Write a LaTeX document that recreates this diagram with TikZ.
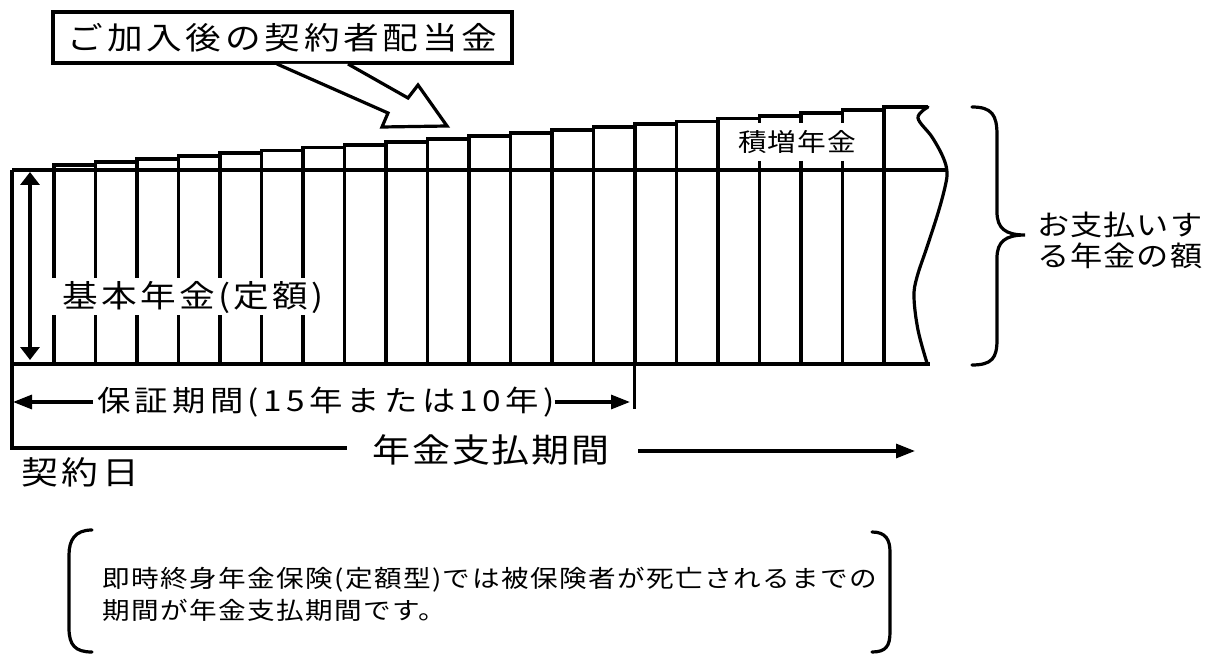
\documentclass[tikz,border=0pt]{standalone}
\usepackage{fontspec}
\newfontfamily\jp[FakeStretch=1.15]{Noto Sans CJK JP}
\usetikzlibrary{arrows.meta}
\newcommand\jpf[2]{\fontsize{#1}{#1}\jp\addfontfeature{LetterSpace=#2}}
\begin{document}
\begin{tikzpicture}[x=1pt,y=-1pt,
  barline/.style={line width=3.8pt,line join=miter},
  hline/.style={line width=3.2pt},
  thinline/.style={line width=3pt},
  curveline/.style={line width=3.2pt,line cap=round},
  txt/.style={inner sep=0pt,outer sep=0pt},
  arr/.style={line width=3.2pt,-{Triangle[length=19pt,width=14pt]}},
  darr/.style={line width=3.8pt,{Triangle[length=13pt,width=19pt]}-{Triangle[length=13pt,width=19pt]}},
  hollow/.style={line width=3.2pt,line join=miter,fill=white}]
\useasboundingbox (0,0) rectangle (1208,655);

% title box and hollow arrow
\node[txt,draw,line width=3.8pt,minimum width=459pt,minimum height=51pt,font=\jpf{31}{12}] (title) at (282.5,37.5) {ご加入後の契約者配当金};
\draw[hollow] (277,64) -- (388,113) -- (382,127) -- (447,126) -- (418,85) -- (408,98) -- (348,64);

% baseline (top of basic annuity) and left frame
\draw[hline] (12,170) -- (947,170);
\draw[barline] (12,170) -- (12,448) -- (347,448);
\draw[hline] (12,364) -- (930,364);

% staircase bars
\foreach \k in {0,...,20}{
  \pgfmathsetmacro\xa{54+41.5*\k}
  \pgfmathsetmacro\xb{(\k==20) ? 928 : 54+41.5*(\k+1)}
  \pgfmathsetmacro\yt{165-2.9*\k}
  \ifnum\k<7
    \draw[barline] (\xa,278) -- (\xa,\yt) -- (\xb,\yt);
    \draw[barline] (\xa,315) -- (\xa,364);
  \else\ifnum\k>16 \ifnum\k<20
    \draw[barline] (\xa,123) -- (\xa,\yt) -- (\xb,\yt);
    \draw[barline] (\xa,161) -- (\xa,364);
  \else
    \draw[barline] (\xa,364) -- (\xa,\yt) -- (\xb,\yt);
  \fi\else
    \draw[barline] (\xa,364) -- (\xa,\yt) -- (\xb,\yt);
  \fi\fi
}

% wavy right edge
\draw[curveline] plot[smooth,tension=0.6] coordinates {(928,107) (918,118) (932,137) (943,157) (947,172) (945,187) (938,213) (927,247) (917,277) (914,297) (918,330) (927,363)};

% labels inside
\node[txt,font=\jpf{25}{4}] (sekizo) at (797,142) {積増年金};
\node[txt,anchor=west,font=\jpf{31}{11}] (kihon) at (62,297) {基本年金(定額)};

% vertical double arrow
\coordinate (ua) at (30,172);
\coordinate (da) at (30,360);
\draw[darr] (ua) -- (da);

% brace
\draw[curveline] (972,107) .. controls (992,107) and (997,115) .. (997,135) -- (997,212) .. controls (997,228) and (1005,235) .. (1025,235) .. controls (1005,235) and (997,242) .. (997,258) -- (997,340) .. controls (997,358) and (992,365) .. (972,365);
\node[txt,anchor=west,font=\jpf{28}{4}] (amt1) at (1037,225) {お支払いす};
\node[txt,anchor=west,font=\jpf{28}{4}] (amt2) at (1037,256) {る年金の額};

% guarantee period
\draw[thinline] (634,364) -- (634,409);
\node[txt,anchor=west,font=\jpf{29}{15}] (hosho) at (97,402) {保証期間(15年または10年)};
\coordinate (hl) at (13,402);
\coordinate (hr) at (630,402);
\draw[arr] (hosho.west) ++(-4,0) -- (hl);
\draw[arr] (hosho.east) -- (hr);

% payment period
\node[txt,font=\jpf{33}{6}] (shiharai) at (491,450) {年金支払期間};
\coordinate (pr) at (915,451);
\draw[arr] (638,451) -- (pr);

\node[txt,anchor=west,font=\jpf{32}{12}] (keiyaku) at (21,472) {契約日};

% bottom note with brackets
\draw[curveline] (92,530) .. controls (75,530) and (69,540) .. (69,555) -- (69,628) .. controls (69,645) and (75,652) .. (92,652);
\draw[curveline] (872,532) .. controls (886,532) and (890,540) .. (890,552) -- (890,632) .. controls (890,646) and (886,652) .. (872,652);
\node[txt,anchor=west,font=\jpf{24}{6}] (note1) at (102,580) {即時終身年金保険(定額型)では被保険者が死亡されるまでの};
\node[txt,anchor=west,font=\jpf{24}{6}] (note2) at (102,610) {期間が年金支払期間です。};
\end{tikzpicture}
\end{document}
